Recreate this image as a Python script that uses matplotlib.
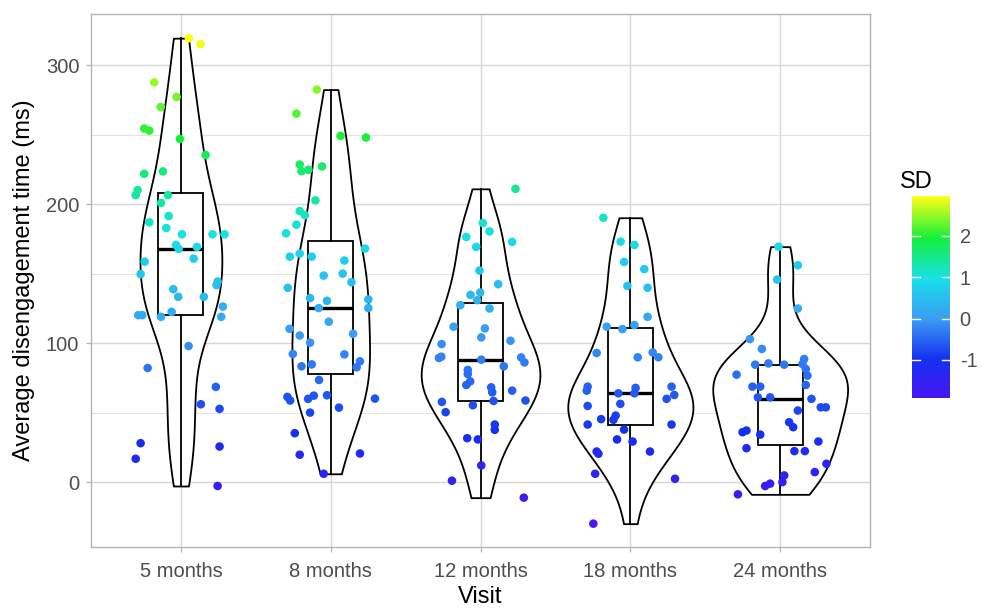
import numpy as np
import matplotlib
matplotlib.use("Agg")
import matplotlib.pyplot as plt
from matplotlib.colors import LinearSegmentedColormap

plt.rcParams['font.family'] = ['Liberation Sans', 'DejaVu Sans']
plt.rcParams['axes.unicode_minus'] = False

visits = ["5 months", "8 months", "12 months", "18 months", "24 months"]

# disengagement times (ms), one list per visit
t05 = [319.6, 315.3, 287.8, 277.3, 270.0, 254.6, 253.1, 247.1, 235.6, 222.0,
       223.7, 210.3, 206.7, 206.7, 201.0, 187.1, 191.6, 183.0, 178.5, 178.5,
       178.5, 170.8, 168.0, 169.4, 161.0, 158.8, 149.8, 144.5, 141.9, 139.0,
       133.5, 133.5, 126.5, 119.1, 120.3, 120.3, 119.1, 122.7, 98.1, 82.3,
       68.7, 56.2, 52.9, 28.2, 17.0, 25.8, -2.6]
t08 = [282.6, 265.3, 249.3, 248.1, 228.7, 223.9, 224.9, 227.3, 202.9, 195.2,
       192.3, 185.4, 179.2, 168.2, 162.4, 164.6, 162.4, 159.6, 148.8, 150.2,
       144.0, 140.0, 132.6, 130.6, 125.4, 131.6, 125.4, 115.6, 110.5, 105.7,
       100.5, 106.9, 92.4, 92.1, 83.5, 84.9, 87.1, 82.8, 73.7, 61.5,
       58.9, 60.1, 62.4, 62.7, 60.3, 53.8, 50.2, 35.4, 19.9, 20.8, 6.2]
t12 = [211.2, 186.6, 180.6, 176.6, 173.0, 169.4, 152.4, 142.6, 134.9, 136.6,
       131.1, 127.5, 125.1, 112.0, 110.8, 104.3, 99.5, 101.9, 90.4, 89.5,
       88.3, 89.9, 86.3, 83.5, 80.9, 78.0, 72.7, 70.1, 68.4, 64.8,
       66.0, 57.9, 55.5, 58.6, 58.9, 50.5, 41.6, 37.8, 31.8, 30.9,
       12.2, 1.2, -11.0]
t18 = [190.4, 173.2, 170.8, 158.6, 153.4, 141.4, 140.0, 119.1, 112.0, 110.3,
       113.2, 93.1, 90.0, 93.5, 90.0, 68.9, 66.0, 64.1, 68.0, 64.1,
       68.9, 62.9, 60.1, 55.0, 56.5, 48.1, 45.0, 45.5, 41.6, 41.6,
       38.0, 30.9, 29.4, 22.2, 20.6, 22.2, 6.2, 2.6, -29.7]
t24 = [169.6, 156.2, 145.9, 125.1, 103.1, 96.0, 84.7, 85.6, 84.7, 88.8,
       85.2, 81.6, 76.8, 70.1, 77.5, 68.9, 68.9, 61.2, 61.2, 60.1,
       54.0, 54.0, 51.7, 43.3, 39.7, 36.1, 37.3, 34.4, 29.4, 24.6,
       22.5, 22.5, 13.4, 7.4, 5.0, 0.2, -2.6, -0.9, -8.6]

# horizontal jitter of each point (category units)
j05 = [0.053, 0.131, -0.178, -0.029, -0.135, -0.245, -0.211, -0.007, 0.165, -0.245,
       -0.12, -0.289, -0.302, -0.087, -0.133, -0.211, -0.082, -0.098, 0.007, 0.211,
       0.291, -0.033, -0.015, 0.107, 0.085, -0.242, -0.269, 0.245, 0.238, -0.051,
       -0.018, 0.153, 0.28, 0.269, -0.285, -0.258, -0.133, -0.062, 0.051, -0.222,
       0.233, 0.133, 0.258, -0.269, -0.302, 0.258, 0.245]
j08 = [-0.093, -0.229, 0.065, 0.235, -0.207, -0.195, -0.149, -0.058, -0.102, -0.207,
       -0.173, -0.229, -0.298, 0.229, -0.273, -0.207, -0.127, 0.091, -0.047, 0.08,
       0.138, -0.287, -0.138, -0.025, -0.08, 0.251, 0.251, -0.013, -0.275, -0.207,
       -0.138, 0.149, -0.253, 0.091, -0.195, -0.127, 0.195, 0.173, -0.078, -0.289,
       -0.271, -0.151, -0.113, -0.025, 0.295, 0.055, -0.138, -0.24, -0.207, 0.195, -0.047]
j12 = [0.233, 0.015, 0.06, -0.095, 0.211, -0.029, -0.007, 0.118, -0.067, -0.002,
       -0.022, -0.135, 0.06, -0.18, 0.029, 0.005, -0.26, 0.2, -0.262, -0.278,
       0.005, 0.271, 0.293, 0.155, -0.085, -0.085, -0.069, -0.095, 0.071, 0.078,
       0.211, -0.258, -0.051, 0.087, 0.3, -0.233, 0.095, 0.095, -0.089, -0.018,
       0.005, -0.191, 0.289]
j18 = [-0.18, -0.065, 0.027, -0.042, 0.093, -0.02, 0.115, 0.115, -0.158, -0.053,
       0.027, -0.225, 0.049, 0.149, 0.187, -0.285, -0.291, -0.08, 0.035, 0.027,
       0.275, 0.293, 0.242, -0.285, -0.067, -0.098, -0.113, -0.195, -0.285, 0.275,
       -0.042, -0.089, 0.015, -0.225, -0.213, 0.131, -0.235, 0.298, -0.247]
j24 = [-0.011, 0.118, -0.02, 0.118, -0.202, -0.122, -0.167, -0.078, 0.027, 0.16,
       0.149, 0.171, 0.182, 0.171, -0.291, -0.185, -0.133, -0.149, -0.067, 0.209,
       0.271, 0.305, 0.118, 0.06, 0.087, -0.251, -0.225, -0.133, 0.255, -0.225,
       0.095, 0.165, 0.309, 0.231, 0.027, 0.015, -0.1, -0.067, -0.282]

times = [np.array(t) for t in (t05, t08, t12, t18, t24)]
jitters = [np.array(j) for j in (j05, j08, j12, j18, j24)]

# SD = standardised time over all children
allt = np.concatenate(times)
mu, sd = allt.mean(), allt.std(ddof=1)

cmap = LinearSegmentedColormap.from_list("sd", [
    (0.0, "#4a14f5"), (0.19, "#1430f0"), (0.39, "#3a9cf5"),
    (0.59, "#18e0e8"), (0.79, "#14f03c"), (1.0, "#ffff14")])
vmin = (allt.min() - mu) / sd
vmax = (allt.max() - mu) / sd


def kde(x, grid):
    # gaussian kde with R's bw.nrd0
    n = len(x)
    iqr = np.percentile(x, 75) - np.percentile(x, 25)
    bw = 0.9 * min(x.std(ddof=1), iqr / 1.34) * n ** -0.2
    z = (grid[:, None] - x[None, :]) / bw
    return np.exp(-0.5 * z ** 2).sum(axis=1) / (n * bw * np.sqrt(2 * np.pi))


grids = [np.linspace(t.min(), t.max(), 512) for t in times]
dens = [kde(t, g) for t, g in zip(times, grids)]
dmax = max(d.max() for d in dens)

fig = plt.figure(figsize=(9.82, 6.08), dpi=100)
ax = fig.add_axes([0.0927, 0.1003, 0.7933, 0.8767])

pos = np.arange(1, 6)
for p, g, d in zip(pos, grids, dens):
    half = d / dmax * 0.45
    ax.fill_betweenx(g, p - half, p + half, facecolor="white",
                     edgecolor="black", lw=1.3, zorder=2)

ax.boxplot(times, positions=pos, widths=0.3, whis=1.5, showfliers=False,
           showcaps=False, patch_artist=True, manage_ticks=False,
           boxprops=dict(facecolor="white", edgecolor="black", lw=1.3),
           whiskerprops=dict(color="black", lw=1.3),
           medianprops=dict(color="black", lw=2.4), zorder=3)

for p, t, j in zip(pos, times, jitters):
    sc = ax.scatter(p + j, t, c=(t - mu) / sd, cmap=cmap, vmin=vmin, vmax=vmax,
                    s=38, edgecolors="none", zorder=4)

ax.set_xlim(0.4, 5.6)
ax.set_ylim(-46.5, 337)
ax.set_xticks(pos)
ax.set_xticklabels(visits)
ax.set_yticks([0, 100, 200, 300])
ax.set_yticks([50, 150, 250], minor=True)
ax.grid(True, which="major", color="#d6d6d6", lw=1.0, zorder=0)
ax.grid(True, which="minor", axis="y", color="#e2e2e2", lw=0.7, zorder=0)
ax.set_axisbelow(True)
for s in ax.spines.values():
    s.set_color("#b3b3b3")
    s.set_linewidth(1.0)
ax.tick_params(which="major", colors="#b3b3b3", length=3.5, width=0.9,
               labelsize=14.5, labelcolor="#4d4d4d")
ax.tick_params(axis="x", pad=7)
ax.tick_params(axis="y", pad=5)
ax.tick_params(which="minor", length=0)
ax.set_xlabel("Visit", fontsize=17, labelpad=4)
ax.set_ylabel("Average disengagement time (ms)", fontsize=17, labelpad=8)

# colour bar legend
cax = fig.add_axes([0.9287, 0.3454, 0.0387, 0.3322])
cb = fig.colorbar(sc, cax=cax)
cb.outline.set_visible(False)
cb.set_ticks([-1, 0, 1, 2])
cax.tick_params(length=0, labelsize=14.5, labelcolor="#4d4d4d", pad=7)
for v in [-1, 0, 1, 2]:
    cax.plot([0, 0.2], [v, v], color="white", lw=1.0, transform=cax.get_yaxis_transform())
    cax.plot([0.8, 1], [v, v], color="white", lw=1.0, transform=cax.get_yaxis_transform())
fig.text(0.9165, 1 - 182 / 608, "SD", fontsize=17, ha="left", va="center")

plt.savefig("out.png", dpi=100)
